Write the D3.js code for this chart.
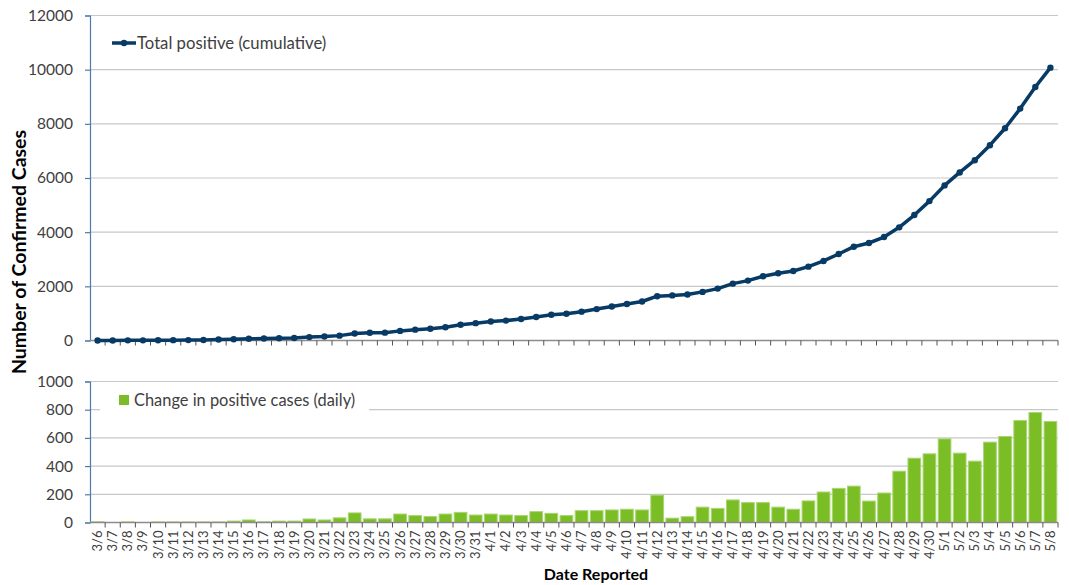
<!DOCTYPE html>
<html>
<head>
<meta charset="utf-8">
<script src="https://d3js.org/d3.v7.min.js"></script>
<style>
  body { margin: 0; background: #fff; }
  text { font-family: Lato, "Open Sans", sans-serif; fill: #404040; }
  .axisTitle { font-weight: bold; fill: #000; }
</style>
</head>
<body>
<div id="chart"></div>
<script>
// Confirmed cases chart: cumulative line on top, daily bars below

var dates = ["3/6","3/7","3/8","3/9","3/10","3/11","3/12","3/13","3/14","3/15","3/16","3/17","3/18","3/19","3/20","3/21","3/22","3/23","3/24","3/25","3/26","3/27","3/28","3/29","3/30","3/31",
  "4/1","4/2","4/3","4/4","4/5","4/6","4/7","4/8","4/9","4/10","4/11","4/12","4/13","4/14","4/15","4/16","4/17","4/18","4/19","4/20","4/21","4/22","4/23","4/24","4/25","4/26","4/27","4/28","4/29","4/30",
  "5/1","5/2","5/3","5/4","5/5","5/6","5/7","5/8"];

var cumulative = [2,2,6,6,10,12,15,20,35,45,65,72,85,95,125,145,180,260,285,290,355,400,435,490,580,640,
  700,735,795,870,950,985,1065,1160,1255,1350,1440,1635,1665,1700,1795,1916,2100,2211,2373,2483,2568,2727,2937,3195,3464,3600,3821,4178,4632,5147,
  5726,6205,6658,7211,7837,8563,9359,10074];

var daily = [5,0,4,0,4,4,4,4,4,10,18,5,10,10,25,18,33,68,26,26,60,49,42,60,72,53,
  60,53,49,77,65,49,84,84,89,94,89,194,31,41,109,100,160,141,141,109,94,153,216,242,258,152,209,364,456,487,
  593,492,435,570,610,723,780,716];

var topTicks = [0,2000,4000,6000,8000,10000,12000];
var bottomTicks = [0,200,400,600,800,1000];

var svgWidth = 1069;
var svgHeight = 585;

var plotLeft = 90;
var plotRight = 1058;

var svg = d3.select("#chart")
  .append("svg")
  .attr("width", svgWidth)
  .attr("height", svgHeight);

var xScale = d3.scaleBand()
  .domain(dates)
  .range([plotLeft, plotRight])
  .paddingInner(0.16)
  .paddingOuter(0.08);

var xBand = d3.scaleBand()
  .domain(dates)
  .range([plotLeft, plotRight]);

var yTop = d3.scaleLinear()
  .domain([0, 12000])
  .range([340.5, 15.5]);

var yBottom = d3.scaleLinear()
  .domain([0, 1000])
  .range([522.5, 381.5]);

// Step 1: gridlines
// ==============================
svg.append("g")
  .selectAll("line")
  .data(topTicks.slice(1))
  .enter()
  .append("line")
  .attr("x1", plotLeft)
  .attr("x2", plotRight)
  .attr("y1", d => yTop(d))
  .attr("y2", d => yTop(d))
  .style("stroke", "#c8c8c8")
  .style("stroke-width", 1.2);

svg.append("g")
  .selectAll("line")
  .data(bottomTicks.slice(1))
  .enter()
  .append("line")
  .attr("x1", plotLeft)
  .attr("x2", plotRight)
  .attr("y1", d => yBottom(d))
  .attr("y2", d => yBottom(d))
  .style("stroke", "#c8c8c8")
  .style("stroke-width", 1.2);

// Step 2: y axes
// ==============================
function styleYAxis(g) {
  g.select(".domain").style("stroke", "#4f7bab").style("stroke-width", 1.2);
  g.selectAll(".tick line").style("stroke", "#4f7bab").style("stroke-width", 1.2);
  g.selectAll(".tick text")
    .style("font-size", "15.5px")
    .style("fill", "#404040")
    .attr("x", -17);
}

svg.append("g")
  .attr("transform", `translate(${plotLeft}, 0)`)
  .call(d3.axisLeft(yTop).tickValues(topTicks).tickSize(5).tickSizeOuter(5).tickFormat(d3.format("d")))
  .call(styleYAxis);

svg.append("g")
  .attr("transform", `translate(${plotLeft}, 0)`)
  .call(d3.axisLeft(yBottom).tickValues(bottomTicks).tickSize(5).tickSizeOuter(5).tickFormat(d3.format("d")))
  .call(styleYAxis);

// Step 3: x axes (category ticks on boundaries)
// ==============================
function drawBaseline(y, withLabels) {
  var g = svg.append("g");
  g.append("line")
    .attr("x1", plotLeft)
    .attr("x2", plotRight)
    .attr("y1", y)
    .attr("y2", y)
    .style("stroke", "#8c8c8c")
    .style("stroke-width", 1.5);

  g.selectAll("line.tick")
    .data(dates)
    .enter()
    .append("line")
    .attr("class", "tick")
    .attr("x1", d => xBand(d) + xBand.bandwidth())
    .attr("x2", d => xBand(d) + xBand.bandwidth())
    .attr("y1", y)
    .attr("y2", y + 5)
    .style("stroke", "#555")
    .style("stroke-width", 1);

  if (withLabels) {
    g.selectAll("text")
      .data(dates)
      .enter()
      .append("text")
      .attr("transform", d => `translate(${xBand(d) + xBand.bandwidth() / 2 + 4.5}, ${y + 8}) rotate(-90)`)
      .attr("text-anchor", "end")
      .style("font-size", "13px")
      .text(d => d);
  }
}

drawBaseline(yTop(0), false);

// Step 4: bars
// ==============================
svg.append("g")
  .selectAll("rect")
  .data(daily)
  .enter()
  .append("rect")
  .attr("x", (d, i) => xScale(dates[i]))
  .attr("width", xScale.bandwidth())
  .attr("y", d => yBottom(d))
  .attr("height", d => yBottom(0) - yBottom(d))
  .attr("fill", "#7abd24")
  .style("stroke", "#a9d672")
  .style("stroke-width", 1);

drawBaseline(yBottom(0), true);

// Step 5: cumulative line
// ==============================
var line = d3.line()
  .x((d, i) => xBand(dates[i]) + xBand.bandwidth() / 2)
  .y(d => yTop(d));

svg.append("path")
  .datum(cumulative)
  .attr("d", line)
  .attr("fill", "none")
  .style("stroke", "#073b66")
  .style("stroke-width", 3.5)
  .style("stroke-linejoin", "round");

svg.append("g")
  .selectAll("circle")
  .data(cumulative)
  .enter()
  .append("circle")
  .attr("cx", (d, i) => xBand(dates[i]) + xBand.bandwidth() / 2)
  .attr("cy", d => yTop(d))
  .attr("r", 3.2)
  .attr("fill", "#073b66");

// Step 6: legends
// ==============================
svg.append("line")
  .attr("x1", 112)
  .attr("x2", 136)
  .attr("y1", 43)
  .attr("y2", 43)
  .style("stroke", "#073b66")
  .style("stroke-width", 3.5);

svg.append("circle")
  .attr("cx", 124)
  .attr("cy", 43)
  .attr("r", 3.2)
  .attr("fill", "#073b66");

svg.append("text")
  .attr("x", 137)
  .attr("y", 48.5)
  .style("font-size", "16.7px")
  .text("Total positive (cumulative)");

svg.append("rect")
  .attr("x", 100)
  .attr("y", 386)
  .attr("width", 269)
  .attr("height", 28)
  .attr("fill", "#fff");

svg.append("rect")
  .attr("x", 119)
  .attr("y", 395)
  .attr("width", 10)
  .attr("height", 10)
  .attr("fill", "#7abd24");

svg.append("text")
  .attr("x", 134)
  .attr("y", 405.5)
  .style("font-size", "16.4px")
  .text("Change in positive cases (daily)");

// Step 7: axis titles
// ==============================
svg.append("text")
  .attr("class", "axisTitle")
  .attr("transform", "translate(26, 252) rotate(-90)")
  .attr("text-anchor", "middle")
  .style("font-size", "19.5px")
  .text("Number of Confirmed Cases");

svg.append("text")
  .attr("class", "axisTitle")
  .attr("x", 596)
  .attr("y", 580)
  .attr("text-anchor", "middle")
  .style("font-size", "16px")
  .text("Date Reported");
</script>
</body>
</html>
